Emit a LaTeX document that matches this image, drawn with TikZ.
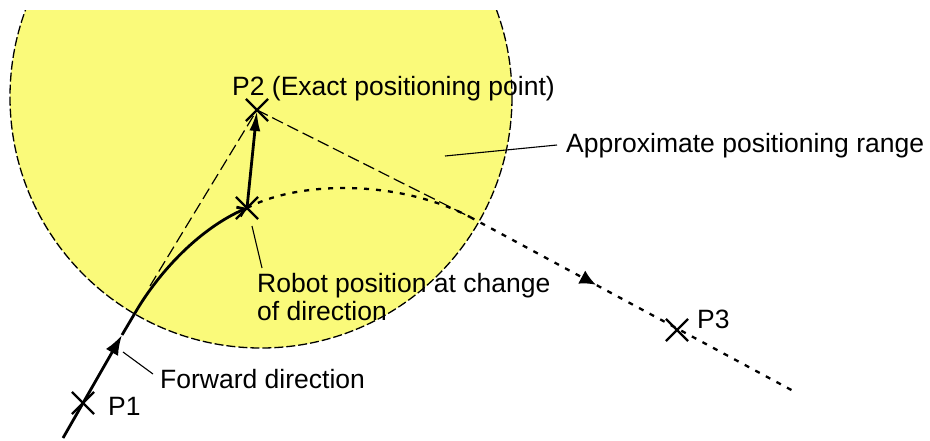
\documentclass[tikz,border=0pt]{standalone}
\usepackage{fontspec}
\setmainfont{Liberation Sans}
\usetikzlibrary{arrows.meta,shapes.misc,decorations.markings}
\definecolor{rangeyellow}{RGB}{250,250,122}
\tikzset{
  crossmark/.style={cross out,draw,line width=2.2pt,minimum size=20pt,inner sep=0pt},
  lbl/.style={anchor=base west,inner sep=0pt,font=\fontsize{26.5}{28}\selectfont},
  mainpath/.style={line width=2.8pt},
  dotpath/.style={line width=2.3pt,dash pattern=on 5pt off 7pt},
  longdash/.style={line width=1.2pt,dash pattern=on 12pt off 5pt},
  leader/.style={line width=1.1pt},
  rim/.style={line width=1.3pt,dash pattern=on 9pt off 3pt}
}
\begin{document}
\begin{tikzpicture}[x=1pt,y=-1pt]
\useasboundingbox (0,0) rectangle (930,440);
% positioning range
\begin{scope}
  \clip (0,10) rectangle (930,440);
  \fill[rangeyellow] (261,97) circle (251);
  \draw[rim] (261,97) circle (251);
\end{scope}
% points
\node[crossmark] (p1) at (83,403) {};
\node[crossmark] (p2) at (257,110) {};
\node[crossmark] (rp) at (247,208) {};
\node[crossmark] (p3) at (677,330) {};
\coordinate (s) at (63,438);
\coordinate (fa) at (122,335);
\coordinate (t1) at (135,313);
\coordinate (dstart) at (150,286);
\coordinate (j) at (470,217);
\coordinate (e) at (797,393);
% dashed construction lines
\draw[longdash] (dstart) -- (p2.center);
\draw[longdash] (p2.center) -- (j);
% actual path
\draw[mainpath,-{Latex[length=20pt,width=14pt]}] (s) -- (fa);
\draw[mainpath,-{Straight Barb[length=7pt,width=10pt]}] (fa) -- (t1) .. controls (160,270) and (201,228) .. (rp.center);
\draw[mainpath,-{Latex[length=20pt,width=11pt]},shorten >=1pt] (rp.center) -- (p2.center);
\draw[dotpath] (rp.center) .. controls (300,180) and (400,180) .. (j);
\draw[dotpath,postaction={decorate,decoration={markings,mark=at position 0.385 with {\arrow{Latex[length=16pt,width=15pt]}}}}] (j) -- (e);
% labels
\node[lbl] (p2l) at (232,95) {P2 (Exact positioning point)};
\node[lbl] (apr) at (566,152) {Approximate positioning range};
\node[lbl] (rpl1) at (257,292) {Robot position at change};
\node[lbl] (rpl2) at (257,320) {of direction};
\node[lbl] (fwd) at (160,388) {Forward direction};
\node[lbl] (p1l) at (108,415) {P1};
\node[lbl] (p3l) at (697,328) {P3};
% leaders
\coordinate (a1) at (445,156);
\coordinate (a2) at (557,145);
\coordinate (r1) at (252,226);
\coordinate (r2) at (262,268);
\coordinate (f1) at (123,352);
\coordinate (f2) at (153,374);
\draw[leader] (a1) -- (a2);
\draw[leader] (r1) -- (r2);
\draw[leader] (f1) -- (f2);
\end{tikzpicture}
\end{document}
